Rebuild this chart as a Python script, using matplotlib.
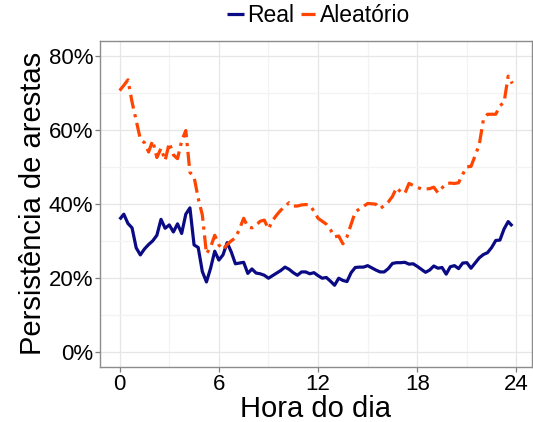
import numpy as np
import matplotlib
matplotlib.use("Agg")
import matplotlib.pyplot as plt

plt.rcParams["font.family"] = ["Liberation Sans", "DejaVu Sans"]

# hour of day, 15-minute bins
hours = np.arange(96) * 0.25

# edge persistence, real network (%)
real = [
    35.8, 37.2, 34.7, 33.5, 28.1, 26.2, 27.8, 29.0, 30.0, 31.5, 35.8, 33.4,
    34.3, 32.4, 34.6, 32.0, 37.2, 38.9, 28.9, 28.2, 21.7, 18.9, 22.6, 27.2,
    24.8, 26.2, 29.5, 27.0, 23.8, 24.0, 24.2, 21.2, 22.4, 21.3, 21.1, 20.7,
    19.9, 20.6, 21.3, 22.0, 22.9, 22.3, 21.4, 20.7, 21.6, 21.6, 21.1, 21.4,
    20.6, 19.9, 20.1, 19.1, 18.0, 19.9, 19.3, 19.0, 21.4, 22.8, 22.9, 22.9,
    23.3, 22.7, 22.1, 21.6, 21.6, 22.5, 23.9, 24.1, 24.1, 24.2, 23.7, 23.8,
    23.1, 22.3, 21.5, 22.1, 23.2, 22.6, 22.8, 21.0, 23.0, 23.3, 22.5, 24.0,
    24.1, 22.6, 24.0, 25.4, 26.3, 26.8, 28.2, 30.1, 30.2, 33.2, 35.2, 34.0,
]

# edge persistence, random network (%)
aleatorio = [
    70.6, 72.0, 73.5, 67.5, 62.5, 57.5, 56.5, 54.0, 57.1, 52.5, 55.0, 51.7,
    56.5, 53.2, 52.2, 57.0, 59.8, 48.5, 47.3, 41.5, 37.0, 26.5, 28.3, 31.5,
    28.9, 27.6, 29.0, 30.0, 30.8, 33.2, 36.1, 33.8, 33.5, 34.2, 35.3, 35.6,
    33.2, 35.5, 37.0, 38.3, 39.3, 40.3, 39.4, 39.4, 39.7, 39.8, 39.7, 38.0,
    36.1, 35.3, 34.5, 33.0, 31.1, 31.3, 29.2, 31.1, 34.5, 37.8, 38.6, 39.3,
    40.1, 40.0, 39.9, 38.7, 39.5, 40.5, 42.0, 44.4, 43.2, 42.8, 45.5, 45.0,
    44.5, 44.0, 44.0, 44.1, 44.5, 43.0, 44.3, 45.5, 45.6, 45.5, 45.7, 48.0,
    50.0, 50.1, 53.0, 56.0, 62.7, 64.2, 64.2, 64.2, 66.5, 67.4, 74.5, 72.5,
]

x_ticks = [0, 6, 12, 18, 24]
y_ticks = [0, 20, 40, 60, 80]

fig = plt.figure(figsize=(5.33, 4.22), dpi=100)
ax = fig.add_axes([0.1876, 0.1311, 0.8105, 0.7718])

ax.plot(hours, real, color="#0a0a85", lw=2.3, solid_capstyle="butt",
        solid_joinstyle="round", label="Real")
ax.plot(hours, aleatorio, color="#ff4500", lw=2.3, dashes=(4.4, 1.8, 1.0, 1.8),
        dash_capstyle="butt", label="Aleatório")

ax.set_xlim(-1.19, 24.94)
ax.set_ylim(-4, 84)

ax.set_xticks(x_ticks)
ax.set_xticks([3, 9, 15, 21], minor=True)
ax.set_yticks(y_ticks)
ax.set_yticklabels([f"{v}%" for v in y_ticks])
ax.set_yticks([10, 30, 50, 70], minor=True)

ax.grid(True, which="major", color="#e6e6e6", lw=0.9)
ax.grid(True, which="minor", color="#f3f3f3", lw=0.9)
ax.set_axisbelow(True)

for s in ax.spines.values():
    s.set_color("#8c8c8c")
    s.set_linewidth(1.0)

ax.tick_params(which="major", length=3.5, width=0.9, color="#7f7f7f",
               labelsize=16, labelcolor="black", pad=1.5)
ax.tick_params(which="minor", length=0)

ax.set_xlabel("Hora do dia", fontsize=21, labelpad=0)
ax.set_ylabel("Persistência de arestas", fontsize=21, labelpad=1)

handles, labels = ax.get_legend_handles_labels()
fig.legend(handles, labels, loc="center", bbox_to_anchor=(319 / 533, 1 - 16 / 422),
           ncol=2, frameon=False, fontsize=16.5, handlelength=0.7,
           handletextpad=0.15, columnspacing=0.3, borderpad=0.1)

fig.savefig("out.png", dpi=100)
